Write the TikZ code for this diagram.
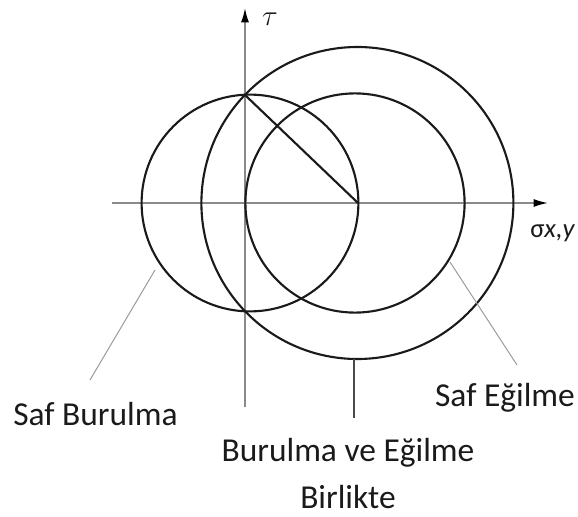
\documentclass[tikz,border=0pt]{standalone}
\usepackage{fontspec}
\setmainfont{Carlito}
\usetikzlibrary{arrows.meta}
\definecolor{ink}{HTML}{1A1A1A}
\definecolor{axisgray}{HTML}{8A8A8A}
\definecolor{leadgray}{HTML}{9A9A9A}
\definecolor{lineink}{HTML}{4A4A4A}

\begin{document}
\begin{tikzpicture}[>=Latex,font=\fontsize{23.8}{33}\selectfont,
  axis/.style={axisgray,line width=1.1pt,-{Latex[length=3.6mm,width=2mm,color=black]}},
  ring/.style={ink,line width=1.5pt},
  leader/.style={leadgray,line width=.7pt},
  lbl/.style={color=ink,anchor=base,inner sep=0pt}]
\useasboundingbox (-6.125,-7.85) rectangle (8.325,5.075);
% ---------------- axes
\coordinate (o) at (0,0);
\draw[axis] (-3.325,0) -- (7.575,0);
\draw[axis] (0,-5.1) -- (0,4.875);
\node[color=ink,font=\fontsize{22}{24}\selectfont,inner sep=0pt] (tau) at (0.625,4.6) {$\tau$};
\node[color=ink,font=\fontsize{19}{20}\selectfont,anchor=base west,inner sep=0pt] (sig) at (7.125,-0.85) {σ\textit{x,y}};

% ---------------- Mohr circles
\draw[ring] (0.125,0) circle (2.71);   % torsion only
\draw[ring] (2.75,0) circle (2.74);    % bending only
\draw[ring] (2.81,0) circle (3.9);     % combined
\draw[ring] (0,2.7) coordinate (top) -- (2.825,0) coordinate (mid);

% ---------------- labels
\node[lbl] (lbTors) at (-3.7375,-5.55) {Saf Burulma};
\node[lbl] (lbBend) at (6.5,-5.0875) {Saf Eğilme};
\node[lbl,align=center] (lbBoth) at (2.575,-7.6325) {Burulma ve Eğilme\\Birlikte};

\coordinate (pTors) at (-2.25,-1.675);
\coordinate (eTors) at (-3.875,-4.425);
\coordinate (pBend) at (5.125,-1.475);
\coordinate (eBend) at (6.8,-4.05);
\coordinate (pBoth) at (2.725,-3.9);
\coordinate (eBoth) at (2.725,-5.375);
\draw[leader] (pTors) -- (eTors);
\draw[leader] (pBend) -- (eBend);
\draw[lineink,line width=1.2pt] (pBoth) -- (eBoth);
\end{tikzpicture}
\end{document}
